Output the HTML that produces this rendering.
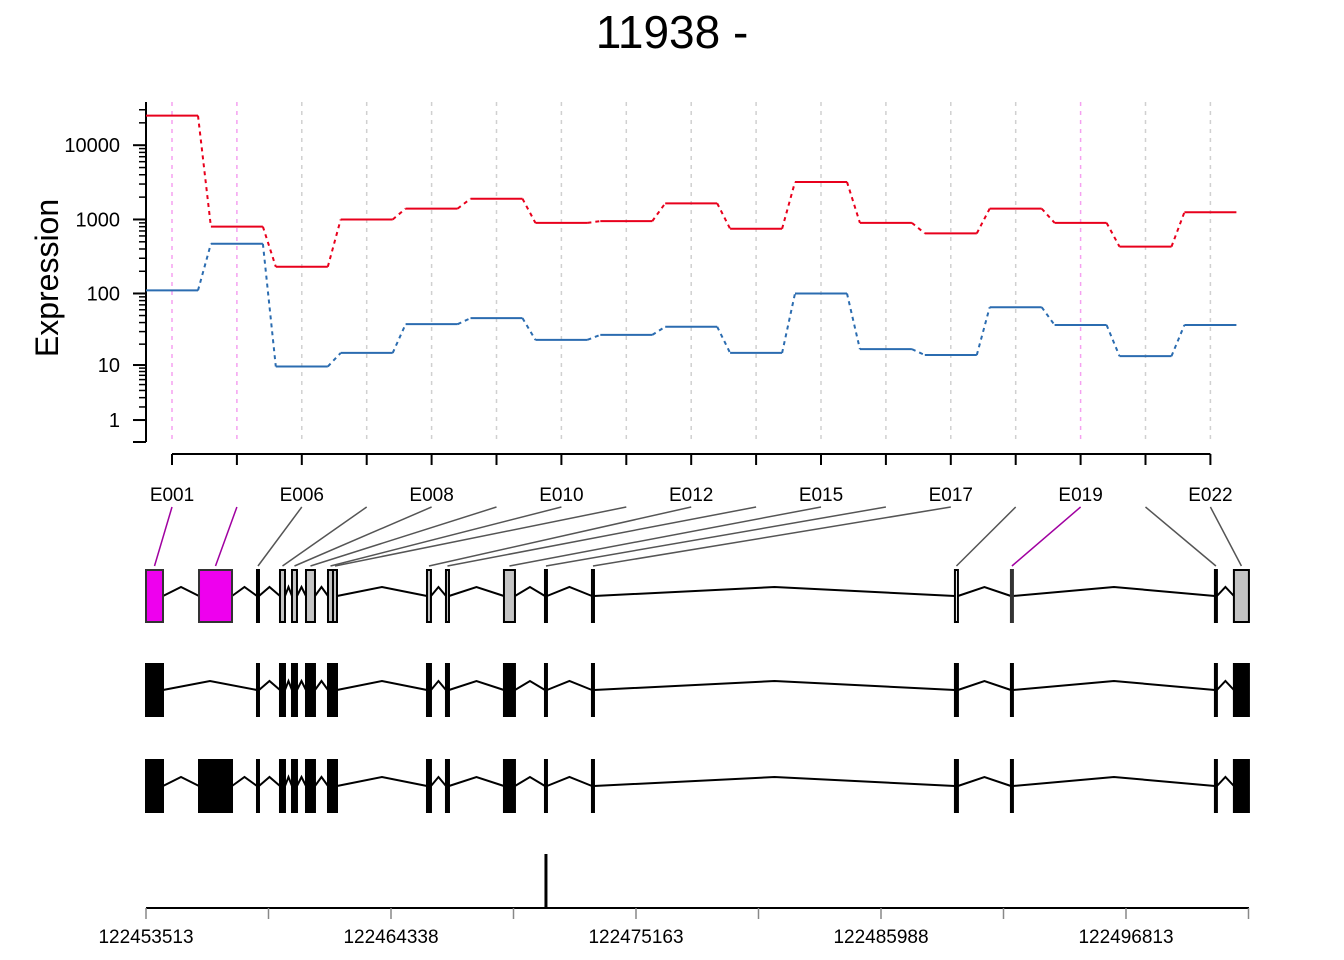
<!DOCTYPE html>
<html><head><meta charset="utf-8"><style>
html,body{margin:0;padding:0;background:#fff}
svg{display:block;font-family:"Liberation Sans",Arial,sans-serif}
</style></head><body>
<svg id="chart" width="1344" height="960" viewBox="0 0 1344 960" xmlns="http://www.w3.org/2000/svg">
<text x="672" y="48" font-size="46" text-anchor="middle">11938 -</text>
<text transform="translate(58,278) rotate(-90)" font-size="32" text-anchor="middle">Expression</text>
<g id="g"></g>
</svg>
<script>
const exonIds=["E001","E002","E003","E004","E005","E006","E007","E008","E009","E010","E011","E012","E013","E014","E015","E016","E017"];
const exonLabels=["E001","","E006","","E008","","E010","","E012","","E015","","E017","","E019","","E022"];
const redValues=[25000,800,230,1000,1400,1900,900,950,1650,750,3200,900,650,1400,900,430,1250];
const blueValues=[110,470,9.5,15,38,46,23,27,35,15,100,17,14,65,37,13.5,37];
const highlighted=[0,1,14];
const exonStart=[122453513,122455855,122458417,122459433,122459963,122460582,122461554,122461775,122465928,122466767,122469329,122471141,122473217,122489255,122491729,122500742,122501581];
const exonEnd=[122454264,122457313,122458505,122459654,122460184,122460979,122461775,122461952,122466104,122466900,122469815,122471229,122473306,122489387,122491817,122500830,122502244];
const exonFill=["g","g","g","g","g","g","g","g","g","g","g","g","g","w","g","g","g"];
const transcript2=[0,2,3,4,5,6,7,8,9,10,11,12,13,14,15,16];
const yTicks=[1,10,100,1000,10000];
const genomeTicks=[122453513,122464338,122475163,122485988,122496813];
const markerPos=[122471229];

const NS="http://www.w3.org/2000/svg";
const G=document.getElementById('g');
function mk(tag,attrs,name,parent){const e=document.createElementNS(NS,tag);for(const k in attrs)e.setAttribute(k,attrs[k]);


(parent||G).appendChild(e);return e;}
const yS=v=>442.4-74.3*Math.log10(v+1);
const xI=i=>172+i*64.9;
const G0=122453513, Gk=245/10825;
const xG=g=>146+(g-G0)*Gk;
const n=exonIds.length;
for(let i=0;i<n;i++){const h=highlighted.includes(i);
mk('line',{x1:xI(i),x2:xI(i),y1:102,y2:442,stroke:h?'#f5a0f0':'#d0d0d0','stroke-width':1.5,'stroke-dasharray':'4,5'},'gridline-'+exonIds[i]);}
mk('line',{x1:146,x2:146,y1:102,y2:442,stroke:'#000','stroke-width':2},'y-axis-line');
mk('line',{x1:133,x2:146,y1:442,y2:442,stroke:'#000','stroke-width':2},'y-axis-base-tick');
for(const t of yTicks){const y=yS(t);
mk('line',{x1:133,x2:146,y1:y,y2:y,stroke:'#000','stroke-width':2},'y-tick-'+t);
const tx=mk('text',{x:120,y:y+7,'font-size':20,'text-anchor':'end'},'y-tick-label-'+t);tx.textContent=t;
for(let m=2;m<=9;m++){const v=t*m;const yy=yS(v);if(yy<102)break;
mk('line',{x1:139,x2:146,y1:yy,y2:yy,stroke:'#000','stroke-width':1.5},'y-minor-tick');}}
function series(vals,col,nm){
for(let i=0;i<n;i++){const y=yS(vals[i]);
mk('line',{x1:xI(i)-26,x2:xI(i)+26,y1:y,y2:y,stroke:col,'stroke-width':2},nm+'-'+exonIds[i]);
if(i<n-1){mk('line',{x1:xI(i)+26,x2:xI(i+1)-26,y1:y,y2:yS(vals[i+1]),stroke:col,'stroke-width':2,'stroke-dasharray':'4,4'},nm+'-connector');}}}
series(redValues,'#e8001c','red-series');
series(blueValues,'#2b6cb0','blue-series');
mk('line',{x1:xI(0),x2:xI(n-1),y1:454,y2:454,stroke:'#000','stroke-width':2},'x-axis-line');
for(let i=0;i<n;i++){
mk('line',{x1:xI(i),x2:xI(i),y1:454,y2:465,stroke:'#000','stroke-width':2},'x-tick-'+exonIds[i]);
if(exonLabels[i]){const t=mk('text',{x:xI(i),y:501,'font-size':19,'text-anchor':'middle'},'x-tick-label-'+exonLabels[i]);t.textContent=exonLabels[i];}
const h=highlighted.includes(i);
mk('line',{x1:xI(i),y1:507,x2:(xG(exonStart[i])+xG(exonEnd[i]))/2,y2:566,stroke:h?'#a000a0':'#555','stroke-width':1.5},'exon-connector-'+exonIds[i]);}
function row(idx,cy,mode,nm){
for(let k=0;k<idx.length-1;k++){const a=xG(exonEnd[idx[k]]),b=xG(exonStart[idx[k+1]]);
mk('polyline',{points:`${a},${cy} ${(a+b)/2},${cy-9} ${b},${cy}`,fill:'none',stroke:'#000','stroke-width':2},nm+'-intron');}
for(const i of idx){const a=xG(exonStart[i]),b=xG(exonEnd[i]);let f='#000',s='#000';
if(mode==='main'){f=highlighted.includes(i)?'#ee00ee':(exonFill[i]==='w'?'#fff':'#c4c4c4');s=highlighted.includes(i)?'#333':'#000';}
mk('rect',{x:a,y:cy-26,width:Math.max(b-a,1.5),height:52,fill:f,stroke:s,'stroke-width':2},nm+'-exon-'+exonIds[i]);}}
row(exonIds.map((_,i)=>i),596,'main','exon-model');
row(transcript2,690,'tx','transcript-2');
row(exonIds.map((_,i)=>i),786,'tx','transcript-3');
mk('line',{x1:146,x2:1249,y1:908,y2:908,stroke:'#000','stroke-width':2},'genome-axis-line');
for(let k=0;k<10;k++){const g=G0+k*10825/2;const x=xG(g);
mk('line',{x1:x,x2:x,y1:908,y2:919,stroke:'#888','stroke-width':1.5},'genome-tick');}
for(const g of genomeTicks){const t=mk('text',{x:xG(g),y:943,'font-size':19,'text-anchor':'middle'},'genome-tick-label');t.textContent=g;}
for(const g of markerPos){mk('line',{x1:xG(g)-1,x2:xG(g)-1,y1:854,y2:908,stroke:'#000','stroke-width':3},'position-marker');}
</script>
</body></html>
